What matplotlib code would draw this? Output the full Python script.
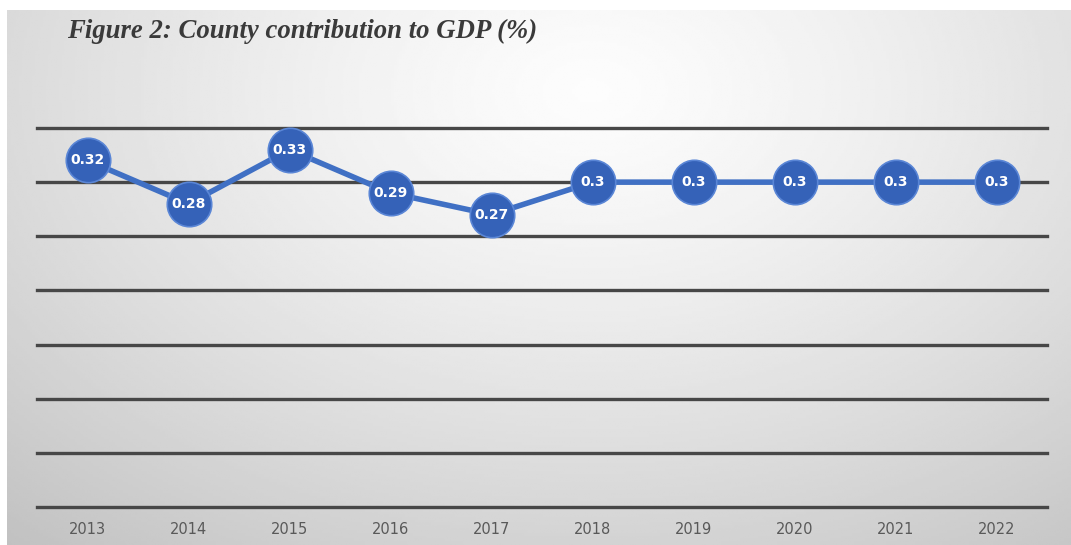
import numpy as np
import matplotlib.pyplot as plt

# County share of national GDP, percent
years = ['2013', '2014', '2015', '2016', '2017', '2018', '2019', '2020', '2021', '2022']
share = [0.32, 0.28, 0.33, 0.29, 0.27, 0.30, 0.30, 0.30, 0.30, 0.30]
grid_levels = [0.0, 0.05, 0.10, 0.15, 0.20, 0.25, 0.30, 0.35]

W, H = 1071, 545
fig = plt.figure(figsize=(W / 100, H / 100), dpi=100)
fig.patch.set_facecolor('white')

# soft radial backdrop, light near the top middle, grey towards the corners
bg = fig.add_axes([7 / W, 0, 1 - 7 / W, 1 - 10 / H], zorder=-10)
gx, gy = np.meshgrid(np.linspace(0, 1, 400), np.linspace(0, 1, 200))
dist = np.sqrt(((gx - 0.55) / 0.75) ** 2 + ((gy - 0.15) / 1.0) ** 2)
shade = 0.99 - 0.2 * np.clip(dist, 0, 1.3) ** 1.3
bg.imshow(shade, cmap='gray', vmin=0, vmax=1, aspect='auto', extent=[0, 1, 1, 0])
bg.axis('off')

ax = fig.add_axes([37 / W, 38 / H, 1010 / W, (507 - 128) / H])
ax.patch.set_alpha(0)
x = np.arange(len(years))
ax.set_xlim(-0.5, len(years) - 0.5)
ax.set_ylim(0, 0.35)

for lvl in grid_levels:
    ax.axhline(lvl, color='#474747', lw=2.4, clip_on=False, zorder=1)

ax.plot(x, share, color='#4070c4', lw=4, marker='o', ms=32,
        mfc='#3562b8', mec='#5a86d6', mew=1.2, zorder=3, clip_on=False)
for xi, v in zip(x, share):
    ax.text(xi, v, f'{v:g}', ha='center', va='center', color='white',
            fontsize=10, fontweight='bold', zorder=4)

for s in ax.spines.values():
    s.set_visible(False)
ax.set_yticks([])
ax.set_xticks(x)
ax.set_xticklabels(years, color='#595959', fontsize=10.5)
ax.tick_params(axis='x', length=0, pad=11)

fig.text(67 / W, 1 - 31 / H, 'Figure 2: County contribution to GDP (%)',
         family='Liberation Serif', style='italic', fontweight='bold',
         fontsize=19.3, color='#3a3a3a', va='center', ha='left')

fig.savefig('out.png', dpi=100)
